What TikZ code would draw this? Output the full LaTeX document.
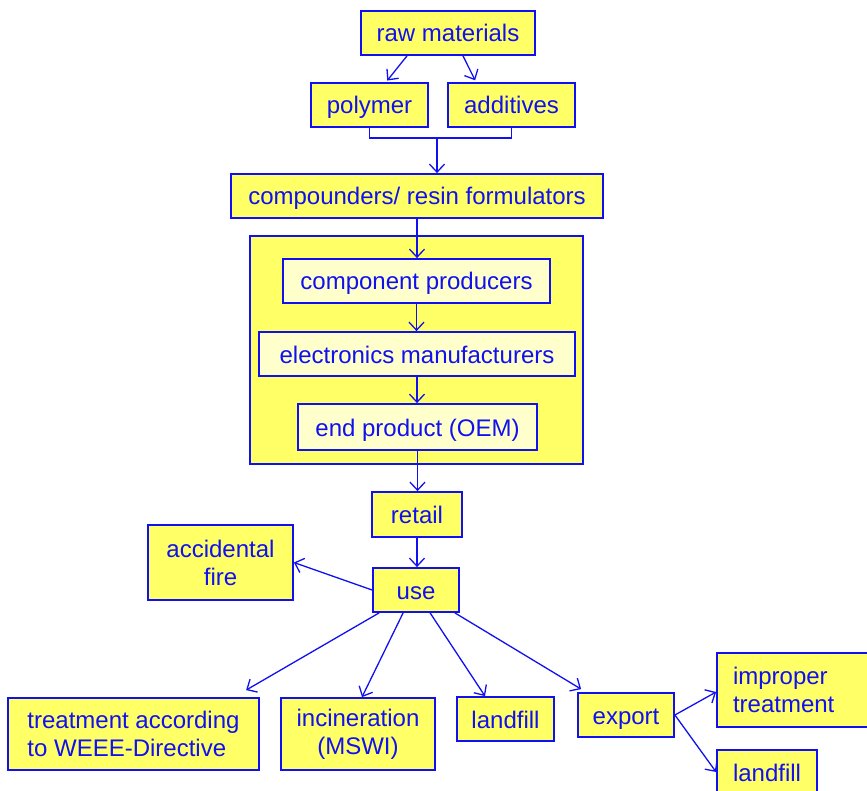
\documentclass[tikz,border=0pt]{standalone}
\usepackage{fontspec}
\setmainfont{Liberation Sans}
\usetikzlibrary{arrows.meta}
\definecolor{boxyellow}{RGB}{255,255,102}
\definecolor{paleyellow}{RGB}{255,255,204}
\definecolor{flowblue}{RGB}{16,16,240}
\tikzset{> = {Straight Barb[length=8pt,width=15pt]}, every picture/.style={line width=1.3pt},
  single/.style={text height=19pt, text depth=1pt}}

\begin{document}
\begin{tikzpicture}[x=1pt,y=-1pt]
\useasboundingbox (0,0) rectangle (867,791);
% frame round the manufacturing chain
\node[draw=flowblue,fill=boxyellow,line width=1.8pt,inner sep=0pt,minimum width=333pt,minimum height=228pt] (chain) at (416.5,350) {};

\begin{scope}[every node/.style={draw=flowblue,fill=boxyellow,text=flowblue,line width=1.8pt,inner sep=0pt,align=center,font=\fontsize{24}{28}\selectfont}]
\node[single,minimum width=174pt,minimum height=44pt] (raw) at (448,33) {raw materials};
\node[single,minimum width=117pt,minimum height=44pt] (poly) at (369.5,105) {polymer};
\node[single,minimum width=127pt,minimum height=44pt] (add) at (511.5,105) {additives};
\node[single,minimum width=372pt,minimum height=44pt] (comp) at (417,196) {compounders/ resin formulators};
\node[single,fill=paleyellow,minimum width=267pt,minimum height=44pt] (compo) at (416.5,281) {component producers};
\node[single,fill=paleyellow,minimum width=316pt,minimum height=44pt] (elec) at (417,354) {electronics manufacturers};
\node[single,fill=paleyellow,minimum width=239pt,minimum height=46pt] (oem) at (417.5,427) {end product (OEM)};
\node[single,minimum width=90pt,minimum height=45pt] (retail) at (417,514.5) {retail};
\node[minimum width=145pt,minimum height=75pt] (fire) at (220.5,562.5) {accidental\\fire};
\node[single,minimum width=86pt,minimum height=44pt] (use) at (416,590) {use};
\node[align=left,minimum width=251pt,minimum height=72pt] (weee) at (133.5,734) {treatment according\\to WEEE-Directive};
\node[minimum width=154pt,minimum height=72pt] (msw) at (358,734) {incineration\\(MSWI)};
\node[single,minimum width=97pt,minimum height=44pt] (fill) at (505.5,719) {landfill};
\node[single,minimum width=96pt,minimum height=44pt] (export) at (626,715) {export};
\node[align=left,text width=131pt,inner xsep=16pt,minimum height=74pt] (improper) at (798.5,690) {improper\\treatment};
\node[single,align=left,text width=68pt,inner xsep=16pt,minimum height=44pt] (dump) at (767,772) {landfill};
\end{scope}

\begin{scope}[draw=flowblue]
    \path [->, shorten >=2pt] ([xshift=-41pt]raw.south) edge ([xshift=16.5pt]poly.north);
    \path [->, shorten >=2pt] ([xshift=15pt]raw.south) edge ([xshift=-35.5pt]add.north);
    \draw (poly.south) -- ++(0,10) -| (add.south);
    \coordinate (join) at (437,137);
    \draw [->] (join) -- (join |- comp.north);
    \draw [->] (comp.south) -- (comp.south |- compo.north);
    \draw [->] (compo.south) -- (compo.south |- elec.north);
    \draw [->] (elec.south) -- (elec.south |- oem.north);
    \draw [->] (oem.south) -- (oem.south |- retail.north);
    \draw [->] (retail.south) -- (retail.south |- use.north);
    \draw [->] (use.west) -- (fire.east);
    \draw [->] ([xshift=7pt]use.south west) -- ([xshift=239pt,yshift=7pt]weee.north west);
    \draw [->] ([xshift=31pt]use.south west) -- ([xshift=4pt]msw.north);
    \draw [->] ([xshift=58pt]use.south west) -- ([xshift=-20.5pt]fill.north);
    \draw [->] ([xshift=-5pt]use.south east) -- ([xshift=4pt,yshift=3pt]export.north west);
    \draw [->] (export.east) -- ([yshift=-2pt]improper.west);
    \draw [->] (export.east) -- (dump.west);
\end{scope}
\end{tikzpicture}
\end{document}
